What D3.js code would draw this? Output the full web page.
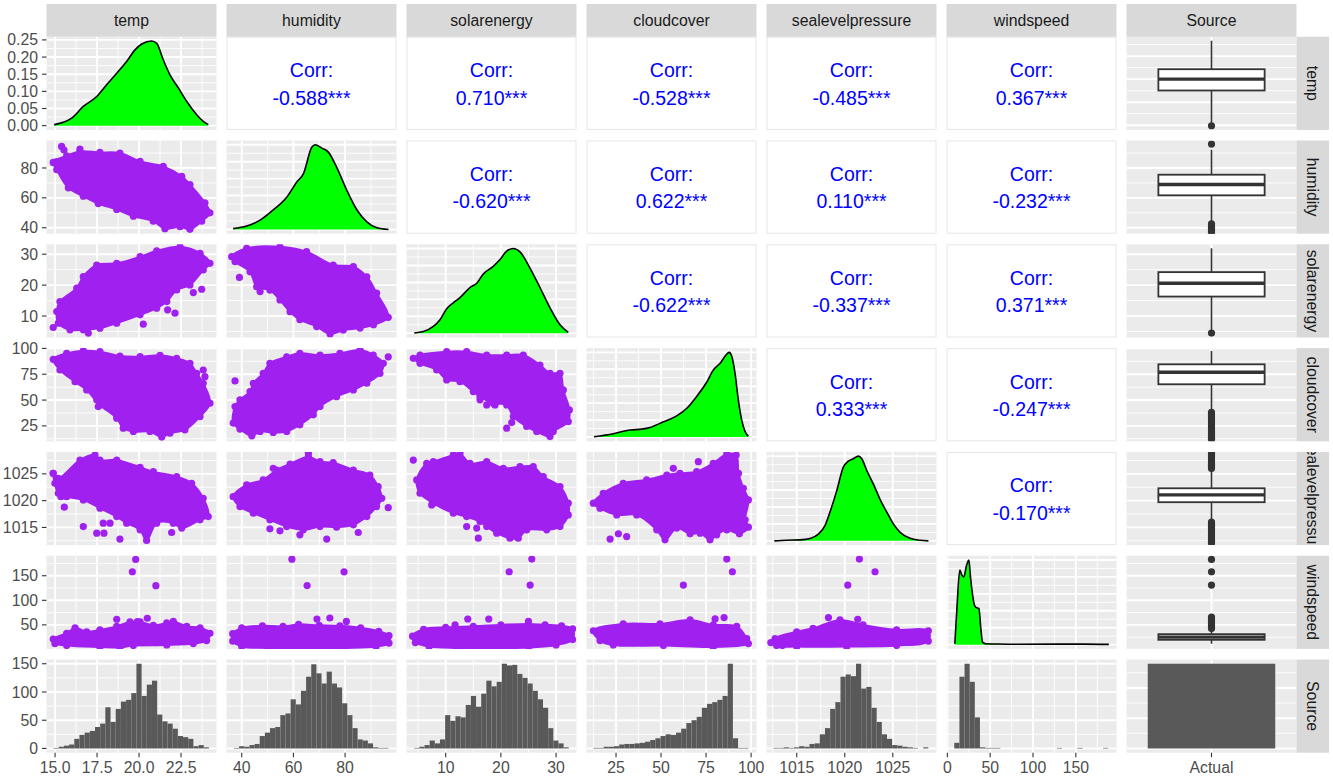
<!DOCTYPE html>
<html>
<head>
<meta charset="utf-8">
<script src="https://cdn.jsdelivr.net/npm/d3@7"></script>
<style>
  html, body { margin: 0; padding: 0; background: #fff; }
  svg { display: block; font-family: "Liberation Sans", Arial, Helvetica, sans-serif; }
</style>
</head>
<body>
<div id="chart"></div>
<script>
// --- Variables & axes ---
const varNames = ["temp", "humidity", "solarenergy", "cloudcover", "sealevelpressure", "windspeed"];
const xDomains = [[14.49, 24.61], [34.1, 99.9], [2.9, 33.7], [8.6, 103], [1011.85, 1029.55], [-1, 197.5]];
const yDomains = [[14.49, 24.61], [36, 98.4], [3.06, 33.2], [10.1, 100.3], [1011.7, 1029.1], [1.1, 190.8]];
const axisTicks = [[15, 17.5, 20, 22.5], [40, 60, 80], [10, 20, 30], [25, 50, 75, 100], [1015, 1020, 1025], [0, 50, 100, 150]];
const axisLabels = [["15.0", "17.5", "20.0", "22.5"], ["40", "60", "80"], ["10", "20", "30"], ["25", "50", "75", "100"], ["1015", "1020", "1025"], ["0", "50", "100", "150"]];
const densTicks = [0, 0.05, 0.10, 0.15, 0.20, 0.25];
const densLabels = ["0.00", "0.05", "0.10", "0.15", "0.20", "0.25"];
const countTicks = [0, 50, 100, 150];
const sourceCategories = ["Actual"];
const sourceCounts = [1400];

// --- Correlations (upper triangle, by row) ---
const corrRows = [
  [-0.588, 0.710, -0.528, -0.485, 0.367],
  [-0.620, 0.622, 0.110, -0.232],
  [-0.622, -0.337, 0.371],
  [0.333, -0.247],
  [-0.170]
];

// --- Diagonal densities [value, density] ---
const densTemp = [[14.95,0.003],[15.49,0.0096],[15.99,0.022],[16.68,0.056],[17.48,0.085],[18.07,0.119],[18.67,0.153],[19.26,0.187],[19.76,0.221],[20.16,0.238],[20.75,0.247],[21.05,0.240],[21.44,0.192],[21.84,0.148],[22.34,0.110],[22.83,0.071],[23.43,0.032],[23.82,0.0125],[24.12,0.003]];
const densHum = [[36.7,0.01],[41.9,0.04],[47.1,0.11],[52.2,0.23],[57.4,0.38],[61.3,0.56],[63.9,0.66],[67.1,0.97],[68.4,1.0],[71.0,0.96],[73.6,0.91],[76.8,0.73],[80.7,0.46],[84.6,0.23],[88.4,0.09],[92.3,0.02],[96.8,0.0]];
const densSolar = [[4.31,0.004],[5.94,0.02],[7.76,0.08],[8.97,0.16],[10.18,0.29],[11.38,0.36],[12.59,0.42],[14.40,0.54],[15.62,0.59],[16.81,0.70],[18.62,0.79],[19.84,0.87],[21.05,0.97],[22.25,1.0],[23.46,0.96],[25.27,0.77],[27.08,0.54],[28.9,0.30],[30.71,0.10],[32.21,0.01]];
const densCloud = [[12.77,0.004],[23.5,0.04],[32.8,0.083],[39.3,0.094],[43.9,0.114],[51.3,0.18],[58.7,0.25],[64.3,0.34],[69.8,0.48],[75.4,0.65],[79.0,0.79],[82.8,0.87],[86.5,0.98],[87.9,1.0],[89.3,0.95],[91.1,0.75],[92.9,0.44],[94.8,0.2],[96.7,0.063],[98.5,0.012]];
const densSlp = [[1012.67,0],[1013.95,0.008],[1015.34,0.012],[1016.38,0.028],[1017.25,0.08],[1017.94,0.18],[1018.46,0.34],[1019.16,0.59],[1019.85,0.87],[1020.37,0.94],[1020.89,0.97],[1021.41,1.0],[1021.77,0.97],[1022.29,0.83],[1022.98,0.67],[1023.67,0.49],[1024.37,0.34],[1025.06,0.2],[1025.76,0.1],[1026.8,0.03],[1027.84,0.008],[1028.71,0]];
const densWind = [[8.7,0.01],[11,0.4],[14.5,0.88],[17,0.82],[19.3,0.80],[22,0.92],[25.1,1.0],[27,0.8],[29.3,0.6],[31.5,0.47],[33.4,0.44],[36.9,0.425],[39,0.2],[41.1,0.03],[45,0.01],[55.8,0.008],[80,0.005],[130,0.006],[160,0.006],[188.6,0.003]];

// --- Bottom-row histograms (30 bins each) ---
const histTemp = [1,3,5,7,17,24,28,31,38,44,73,47,70,83,86,98,150,93,113,120,60,48,44,35,22,20,17,4,6,2];
const histHum = [1,4,3,6,8,22,28,36,38,59,62,87,78,102,127,149,133,115,136,115,108,80,59,36,16,14,9,2,1,1];
const histSolar = [1,3,6,14,9,16,59,49,57,55,77,93,74,97,120,110,118,150,147,148,132,125,115,102,87,72,36,14,9,2];
const histCloud = [1,1,3,3,4,7,8,8,9,10,12,15,18,22,25,24,28,35,45,50,56,72,79,82,86,93,150,18,1,1];
const histSlp = [1,1,2,1,2,4,3,8,9,25,36,70,82,127,131,128,150,106,109,72,47,25,17,6,5,3,2,1,0,2];
const histWind = [10,127,150,118,55,2,1,1,1,0,0,0,0,0,0,0,0,0,0,0,1,0,0,0,1,0,0,0,0,1];
const histExtents = [[14.91, 24.16], [37.0, 96.8], [4.3, 32.3], [12.4, 98.5], [1012.56, 1028.7], [8.1, 187.8]];

// --- Boxplots by Source [lower whisker, q1, median, q3, upper whisker] ---
const boxTemp = [15.24, 18.77, 20.0, 21.08, 24.18];
const boxHum = [44.0, 61.7, 68.9, 75.5, 92.2];
const boxSolar = [5.5, 16.3, 20.6, 24.2, 31.9];
const boxCloud = [39.5, 65.3, 76.9, 84.6, 97.5];
const boxSlp = [1016.41, 1019.71, 1021.07, 1022.31, 1025.6];
const boxWind = [11.4, 19.6, 25.0, 31.1, 39.0];
const outTemp = [14.94];
const outHum = [96.0, 42.6, 41.4, 40.2, 39.0, 37.8, 36.8];
const outSolar = [4.5];
const outCloud = [38, 36, 34, 32, 30, 28, 26, 24, 22, 20, 18, 16, 14, 12];
const outSlp = [1026.0, 1026.4, 1026.8, 1027.2, 1027.6, 1028.0, 1028.4, 1028.8, 1016.0, 1015.6, 1015.2, 1014.8, 1014.4, 1014.0, 1013.6, 1013.2, 1012.8, 1012.4, 1012.1];
const outWind = [183.2, 158.1, 131.1, 66, 62, 58, 54, 50, 46, 42.5];

// --- Scatter clouds: outline of the dense point mass + isolated points [x, y] ---
const hullHumTemp = [[14.89,83.7],[15.69,88.2],[16.48,91.1],[17.67,90.4],[18.86,90.0],[20.06,84.4],[21.44,81.1],[22.54,74.4],[23.03,68.9],[23.92,56.7],[24.22,50.0],[23.73,44.4],[23.03,38.9],[22.44,40.7],[21.54,39.3],[20.85,44.4],[19.66,47.7],[18.67,52.2],[17.57,56.2],[16.68,61.1],[15.79,66.7],[15.10,78.9]];
const ptsHumTemp = [[15.39,94.4],[15.53,92.0],[16.48,92.7],[15.1,84.2]];
const hullSolarTemp = [[15.19,7.70],[15.10,11.45],[15.29,14.67],[16.29,19.0],[16.68,22.74],[17.48,26.5],[18.67,27.06],[20.06,29.19],[21.05,31.1],[22.44,32.4],[23.63,30.29],[24.22,27.06],[23.82,24.9],[23.03,20.06],[22.24,18.45],[21.65,14.67],[21.05,12.55],[20.06,10.38],[18.67,7.70],[17.67,6.09],[16.68,5.54],[15.89,5.54]];
const ptsSolarTemp = [[14.89,6.29],[16.98,4.48],[20.25,7.38],[22.14,10.93],[23.23,17.58],[23.73,18.67],[21.7,12.0]];
const hullCloudTemp = [[14.89,89.4],[15.69,95.2],[16.68,97.7],[17.67,96.8],[18.86,92.6],[20.06,92.0],[21.25,93.3],[22.24,90.4],[23.03,85.6],[23.43,75.9],[23.82,66.3],[24.22,47.0],[23.63,34.0],[22.73,21.2],[21.84,18.0],[21.35,14.2],[20.65,19.6],[19.66,19.6],[19.06,22.8],[18.67,32.5],[17.67,45.3],[16.88,59.8],[16.19,67.8],[15.29,79.1]];
const ptsCloudTemp = [[23.82,79.1],[23.92,72.6],[23.63,58.2],[17.48,50.2],[17.57,43.7],[18.67,34.0]];
const hullSlpTemp = [[14.89,1025.11],[15.19,1024.18],[16.48,1027.58],[17.38,1028.52],[17.67,1027.58],[18.67,1027.58],[20.06,1026.23],[20.85,1025.41],[22.24,1024.47],[23.13,1023.25],[23.82,1020.45],[24.12,1017.03],[23.63,1016.41],[22.54,1014.87],[22.04,1015.8],[21.05,1015.8],[20.45,1012.56],[20.06,1014.55],[19.26,1015.8],[18.67,1017.03],[17.67,1018.59],[16.68,1020.14],[15.69,1020.75],[15.19,1021.38],[14.99,1023.25]];
const ptsSlpTemp = [[15.35,1020.75],[15.55,1018.78],[16.68,1015.16],[17.48,1013.93],[17.91,1013.93],[17.87,1015.8],[18.27,1015.8],[18.86,1012.82],[21.94,1014.05],[14.89,1025.11]];
const hullWindTemp = [[14.89,21],[15.69,33],[16.19,44],[16.88,36],[17.67,40],[18.67,47],[19.46,56],[20.06,56],[20.85,49],[21.65,54],[22.04,57],[22.84,47],[23.63,44],[24.22,33],[24.02,18],[23.23,12],[21.65,9],[19.66,8],[18.86,4],[17.67,5],[15.69,8],[14.99,12]];
const ptsWindTemp = [[19.8,183.2],[19.6,158.1],[21.0,129.7],[18.67,61.5],[20.49,63.5],[19.9,56.7]];
const hullSolarHum = [[36.1,29.2],[41.9,31.9],[54.8,32.4],[65.1,30.8],[75.4,26.5],[83.2,26.0],[88.4,22.7],[92.2,17.4],[96.7,9.6],[91.0,7.2],[85.8,6.1],[79.3,5.5],[74.2,4.2],[69.0,6.6],[62.5,8.8],[58.7,11.4],[54.8,15.2],[50.9,18.4],[45.8,19.5],[43.2,24.3],[37.4,27.6]];
const ptsSolarHum = [[39.1,22.5],[47.1,17.9],[93.2,10.1],[92.0,9.0]];
const hullCloudHum = [[36.7,27.7],[37.4,43.7],[39.3,50.2],[43.2,58.2],[44.5,66.3],[48.3,75.9],[50.9,85.6],[57.4,91.9],[62.5,95.2],[70.3,93.6],[78.0,95.2],[85.8,98.4],[90.9,93.6],[94.8,85.6],[93.5,75.9],[88.4,66.3],[83.2,59.8],[76.7,53.3],[70.3,43.7],[67.7,35.7],[62.5,26.0],[57.4,19.6],[52.2,18.6],[47.1,19.6],[43.9,15.4],[39.3,21.9]];
const ptsCloudHum = [[37.4,68.5],[96.7,91.9]];
const hullSlpHum = [[36.7,1020.75],[41.9,1022.93],[48.3,1023.86],[53.5,1025.72],[58.7,1026.84],[65.8,1028.20],[70.3,1027.27],[75.4,1027.08],[83.2,1025.72],[89.6,1024.79],[92.8,1022.61],[94.2,1020.45],[92.2,1018.89],[88.4,1017.03],[83.2,1015.48],[76.7,1015.05],[70.3,1015.16],[63.8,1014.55],[57.4,1015.16],[50.9,1016.41],[44.5,1017.66],[39.3,1018.89]];
const ptsSlpHum = [[96.7,1018.7],[85.1,1014.05],[72.9,1012.82],[62.5,1013.62],[54.8,1014.36],[50.9,1014.74],[65.8,1028.83],[52.2,1026.04]];
const hullWindHum = [[36.5,32],[40,44],[48,48],[56,47],[62,51],[70,49],[78,48],[86,44],[93,37],[97,28],[97,13],[92,6],[80,3],[65,2],[50,3],[40,6],[36.5,17]];
const ptsWindHum = [[59.4,183.8],[79.6,158],[65.3,130],[69.1,62],[74.1,64],[80.5,57]];
const hullCloudSolar = [[4.13,90.4],[5.35,93.6],[10.18,96.8],[13.8,96.8],[17.43,93.6],[21.05,93.6],[24.06,93.6],[27.08,83.9],[28.9,75.9],[30.71,75.9],[31.31,59.8],[32.4,40.5],[32.21,29.2],[29.49,19.6],[28.9,14.7],[26.49,19.6],[24.68,24.4],[22.25,34.0],[21.05,45.3],[18.62,46.9],[16.22,53.3],[15.0,58.2],[12.59,67.8],[10.18,69.5],[8.37,79.1],[5.35,85.6]];
const ptsCloudSolar = [[21.05,22.8],[21.96,28.2],[16.22,50.2],[17.43,45.3],[18.93,45.3]];
const hullSlpSolar = [[4.75,1023.86],[6.56,1026.97],[7.76,1027.27],[11.38,1028.52],[12.59,1028.83],[14.4,1026.97],[17.43,1027.27],[20.44,1026.04],[23.46,1026.34],[25.87,1026.34],[27.68,1024.47],[30.71,1022.61],[32.21,1019.52],[32.21,1017.34],[30.71,1015.16],[28.3,1014.55],[24.68,1014.55],[23.15,1013.0],[21.65,1013.0],[19.24,1013.93],[17.43,1015.16],[16.22,1016.1],[13.8,1017.03],[11.38,1017.66],[7.76,1019.52],[5.35,1021.38]];
const ptsSlpSolar = [[4.13,1027.58],[7.46,1019.2],[13.8,1015.16],[15.62,1014.87],[15.91,1013.0]];
const hullWindSolar = [[4,27],[6,41],[10,45],[15,47],[20,50],[25,52],[28,50],[31,48],[33,42],[33,20],[30,9],[25,4],[18,2],[12,3],[7,6],[4.5,14]];
const ptsWindSolar = [[25.6,183.9],[21.5,158.1],[25.3,131.1],[14,62],[17.8,62],[25,57],[11.7,50]];
const hullSlpCloud = [[12.4,1019.52],[17.9,1021.38],[29.0,1023.25],[42.0,1023.86],[53.2,1024.79],[60.5,1025.11],[69.8,1025.41],[79.0,1026.97],[86.5,1028.7],[91.7,1028.52],[93.0,1025.11],[95.7,1022.31],[98.5,1020.14],[96.7,1016.41],[98.5,1015.05],[93.5,1013.8],[86.5,1014.55],[80.9,1013.62],[77.2,1012.69],[71.7,1013.93],[66.1,1013.8],[58.7,1014.87],[52.2,1012.69],[47.6,1014.55],[36.5,1017.34],[25.4,1017.34],[16.1,1018.59]];
const ptsSlpCloud = [[56.8,1026.04],[70.7,1027.27],[21.7,1012.82],[26.3,1013.8],[30.9,1013.3]];
const hullWindCloud = [[12.4,38],[29.0,52],[49.4,52],[66.1,60],[79.0,50],[92.0,47],[97.6,22],[98.5,12],[79.0,5],[51.3,8],[23.5,9],[16.1,18]];
const ptsWindCloud = [[86.5,183.9],[89.6,158.1],[62.4,131.1],[80.0,62.1],[85.0,64.8]];
const hullWindSlp = [[1012.74,22],[1015.0,36],[1016.7,43],[1019.5,60],[1021.9,50],[1025.4,40],[1028.7,38],[1028.7,17],[1025.4,8],[1020.2,6],[1015.0,6],[1012.9,8]];
const ptsWindSlp = [[1021.52,183.9],[1023.15,158.1],[1020.31,131.1],[1018.3,64.8],[1021.35,61.5],[1012.3,14],[1013.5,8]];

// --- Assemble lookups ---
const densities = [densTemp, densHum, densSolar, densCloud, densSlp, densWind];
const hists = [histTemp, histHum, histSolar, histCloud, histSlp, histWind];
const boxStats = [boxTemp, boxHum, boxSolar, boxCloud, boxSlp, boxWind];
const boxOutliers = [outTemp, outHum, outSolar, outCloud, outSlp, outWind];
const scatters = [
  [1, 0, hullHumTemp, ptsHumTemp],
  [2, 0, hullSolarTemp, ptsSolarTemp], [2, 1, hullSolarHum, ptsSolarHum],
  [3, 0, hullCloudTemp, ptsCloudTemp], [3, 1, hullCloudHum, ptsCloudHum], [3, 2, hullCloudSolar, ptsCloudSolar],
  [4, 0, hullSlpTemp, ptsSlpTemp], [4, 1, hullSlpHum, ptsSlpHum], [4, 2, hullSlpSolar, ptsSlpSolar], [4, 3, hullSlpCloud, ptsSlpCloud],
  [5, 0, hullWindTemp, ptsWindTemp], [5, 1, hullWindHum, ptsWindHum], [5, 2, hullWindSolar, ptsWindSolar], [5, 3, hullWindCloud, ptsWindCloud], [5, 4, hullWindSlp, ptsWindSlp]
];

// --- Layout ---
const W = 1333, H = 777;
const gridLeft = 46.5, gridTop = 36.7, pw = 170, ph = 93.2, gapX = 10, gapY = 10.6;
const colX = c => gridLeft + c * (pw + gapX);
const rowY = r => gridTop + r * (ph + gapY);
const stripTop = 4, stripW = 32.5;

const PURPLE = "#A020F0", GREEN = "#00FF00", DARK = "#333333", BARGREY = "#595959";
const PANEL_BG = "#EBEBEB", STRIP_BG = "#D9D9D9";
const FONT = 15.8;
const DOT_R = 3.6;

const svg = d3.select("#chart").append("svg").attr("width", W).attr("height", H);
const defs = svg.append("defs");

const xScale = c => d3.scaleLinear().domain(xDomains[c]).range([0, pw]);
const yScale = r => d3.scaleLinear().domain(yDomains[r]).range([ph, 0]);
const catScale = d3.scaleLinear().domain([0.4, 1.6]).range([0, pw]);
const relScale = max => d3.scaleLinear().domain([-0.05 * max, 1.05 * max]).range([ph, 0]);
// ggally prints a plain hyphen for negatives
const fmtCorr = v => v.toFixed(3) + "***";

// --- Helpers ---
function inDomain(ticks, s) {
  const d = s.domain();
  return ticks.filter(t => t >= Math.min(d[0], d[1]) && t <= Math.max(d[0], d[1]));
}
function minorTicks(major, s) {
  if (major.length < 2) return [];
  const step = major[1] - major[0];
  const out = [];
  major.forEach(m => [m - step / 2, m + step / 2].forEach(v => {
    if (!out.some(o => Math.abs(o - v) < 1e-9)) out.push(v);
  }));
  return inDomain(out, s);
}

function addPanel(r, c, fill) {
  const id = `clip-${r}-${c}`;
  defs.append("clipPath").attr("id", id)
    .append("rect").attr("width", pw).attr("height", ph);
  const outer = svg.append("g").attr("transform", `translate(${colX(c)},${rowY(r)})`);
  outer.append("rect").attr("width", pw).attr("height", ph).attr("fill", fill);
  return outer.append("g").attr("clip-path", `url(#${id})`);
}

function drawGrid(g, xs, xMajor, ys, yMajor) {
  const vMinor = minorTicks(xMajor, xs), hMinor = minorTicks(yMajor, ys);
  const vMajor = inDomain(xMajor, xs), hMajor = inDomain(yMajor, ys);
  const lines = [
    ...vMinor.map(v => ({ x1: xs(v), x2: xs(v), y1: 0, y2: ph, w: 0.9 })),
    ...hMinor.map(v => ({ x1: 0, x2: pw, y1: ys(v), y2: ys(v), w: 0.9 })),
    ...vMajor.map(v => ({ x1: xs(v), x2: xs(v), y1: 0, y2: ph, w: 1.9 })),
    ...hMajor.map(v => ({ x1: 0, x2: pw, y1: ys(v), y2: ys(v), w: 1.9 }))
  ];
  g.selectAll(null).data(lines).join("line")
    .attr("x1", d => d.x1).attr("x2", d => d.x2)
    .attr("y1", d => d.y1).attr("y2", d => d.y2)
    .attr("stroke", "#fff").attr("stroke-width", d => d.w);
}

// --- Diagonal: densities ---
densities.forEach((dens, i) => {
  const g = addPanel(i, i, PANEL_BG);
  const xs = xScale(i);
  const ys = relScale(d3.max(dens, d => d[1]));
  const yMaj = i === 0 ? densTicks : ys.ticks(5);
  drawGrid(g, xs, axisTicks[i], ys, yMaj);
  const area = d3.area().x(d => xs(d[0])).y0(ys(0)).y1(d => ys(d[1])).curve(d3.curveMonotoneX);
  const line = d3.line().x(d => xs(d[0])).y(d => ys(d[1])).curve(d3.curveMonotoneX);
  g.append("path").datum(dens).attr("d", area).attr("fill", GREEN);
  g.append("path").datum(dens).attr("d", line).attr("fill", "none")
    .attr("stroke", "#000").attr("stroke-width", 1.6);
});

// --- Upper triangle: correlations ---
corrRows.forEach((vals, r) => {
  vals.forEach((v, k) => {
    const c = r + 1 + k;
    const g = svg.append("g").attr("transform", `translate(${colX(c)},${rowY(r)})`);
    g.append("rect").attr("x", 0.5).attr("y", 0.5).attr("width", pw - 1).attr("height", ph - 1)
      .attr("fill", "#fff").attr("stroke", "#E6E6E6").attr("stroke-width", 1);
    const t = g.append("text").attr("text-anchor", "middle").attr("fill", "#0000FF")
      .attr("font-size", "19.5px");
    t.append("tspan").attr("x", pw / 2).attr("y", ph / 2 - 6.1).text("Corr:");
    t.append("tspan").attr("x", pw / 2).attr("y", ph / 2 + 21.3).text(fmtCorr(v));
  });
});

// --- Lower triangle: scatter clouds ---
scatters.forEach(([r, c, hull, pts]) => {
  const g = addPanel(r, c, PANEL_BG);
  const xs = xScale(c), ys = yScale(r);
  drawGrid(g, xs, axisTicks[c], ys, axisTicks[r]);
  const outline = d3.line().x(d => xs(d[0])).y(d => ys(d[1])).curve(d3.curveCatmullRomClosed.alpha(0.5));
  g.append("path").datum(hull).attr("d", outline)
    .attr("fill", PURPLE).attr("stroke", PURPLE).attr("stroke-width", 2).attr("stroke-linejoin", "round");
  g.selectAll("circle").data(hull.concat(pts)).join("circle")
    .attr("cx", d => xs(d[0])).attr("cy", d => ys(d[1])).attr("r", DOT_R).attr("fill", PURPLE);
});

// --- Bottom row: histograms ---
const histMax = d3.max(hists, h => d3.max(h));
hists.forEach((counts, c) => {
  const g = addPanel(6, c, PANEL_BG);
  const xs = xScale(c);
  const ys = relScale(histMax);
  drawGrid(g, xs, axisTicks[c], ys, countTicks);
  const [lo, hi] = histExtents[c];
  const bw = (hi - lo) / counts.length;
  g.selectAll("rect.bar").data(counts).join("rect").attr("class", "bar")
    .attr("x", (d, i) => xs(lo + i * bw))
    .attr("width", (d, i) => xs(lo + (i + 1) * bw) - xs(lo + i * bw))
    .attr("y", d => ys(d))
    .attr("height", d => ys(0) - ys(d))
    .attr("fill", BARGREY);
});

// --- Right column: boxplots by Source ---
boxStats.forEach((s, r) => {
  const g = addPanel(r, 6, PANEL_BG);
  const ys = yScale(r);
  drawGrid(g, catScale, [1], ys, axisTicks[r]);
  const [lo, q1, med, q3, hi] = s;
  const cx = catScale(1);
  g.append("line").attr("x1", cx).attr("x2", cx).attr("y1", ys(hi)).attr("y2", ys(q3))
    .attr("stroke", DARK).attr("stroke-width", 1.6);
  g.append("line").attr("x1", cx).attr("x2", cx).attr("y1", ys(q1)).attr("y2", ys(lo))
    .attr("stroke", DARK).attr("stroke-width", 1.6);
  g.append("rect").attr("x", catScale(0.625)).attr("width", catScale(1.375) - catScale(0.625))
    .attr("y", ys(q3)).attr("height", ys(q1) - ys(q3))
    .attr("fill", "#fff").attr("stroke", DARK).attr("stroke-width", 1.8);
  g.append("line").attr("x1", catScale(0.625)).attr("x2", catScale(1.375))
    .attr("y1", ys(med)).attr("y2", ys(med)).attr("stroke", DARK).attr("stroke-width", 3.4);
  g.selectAll("circle").data(boxOutliers[r]).join("circle")
    .attr("cx", cx).attr("cy", d => ys(d)).attr("r", DOT_R).attr("fill", DARK);
});

// --- Bottom-right: bar of Source counts ---
{
  const g = addPanel(6, 6, PANEL_BG);
  const ys = relScale(d3.max(sourceCounts));
  drawGrid(g, catScale, [1], ys, ys.ticks(3));
  g.selectAll("rect.bar").data(sourceCounts).join("rect").attr("class", "bar")
    .attr("x", catScale(0.55)).attr("width", catScale(1.45) - catScale(0.55))
    .attr("y", d => ys(d)).attr("height", d => ys(0) - ys(d))
    .attr("fill", BARGREY);
}

// --- Strips ---
const stripLabels = varNames.concat(["Source"]);
stripLabels.forEach((name, i) => {
  // top
  const gt = svg.append("g").attr("transform", `translate(${colX(i)},${stripTop})`);
  gt.append("rect").attr("width", pw).attr("height", gridTop - stripTop).attr("fill", STRIP_BG);
  gt.append("text").attr("x", pw / 2).attr("y", (gridTop - stripTop) / 2).attr("dy", "0.35em")
    .attr("text-anchor", "middle").attr("font-size", FONT + "px").attr("fill", "#1A1A1A").text(name);
  // right
  const id = `strip-clip-${i}`;
  defs.append("clipPath").attr("id", id).append("rect").attr("width", stripW).attr("height", ph);
  const gr = svg.append("g").attr("transform", `translate(${colX(6) + pw},${rowY(i)})`);
  gr.append("rect").attr("width", stripW).attr("height", ph).attr("fill", STRIP_BG);
  gr.append("g").attr("clip-path", `url(#${id})`)
    .append("text").attr("transform", `translate(${stripW / 2},${ph / 2}) rotate(90)`)
    .attr("dy", "0.35em").attr("text-anchor", "middle")
    .attr("font-size", FONT + "px").attr("fill", "#1A1A1A").text(name);
});

// --- Left axis ---
const axisG = svg.append("g");
function leftAxis(r, ys, ticks, labels) {
  const shown = ticks.map((t, i) => [t, labels[i]]).filter(d => inDomain([d[0]], ys).length);
  const g = axisG.append("g").attr("transform", `translate(${gridLeft},${rowY(r)})`);
  g.selectAll("line").data(shown).join("line")
    .attr("x1", -4.5).attr("x2", 0).attr("y1", d => ys(d[0])).attr("y2", d => ys(d[0]))
    .attr("stroke", DARK).attr("stroke-width", 1.1);
  g.selectAll("text").data(shown).join("text")
    .attr("x", -8.5).attr("y", d => ys(d[0])).attr("dy", "0.35em")
    .attr("text-anchor", "end").attr("font-size", FONT + "px").attr("fill", "#4D4D4D")
    .text(d => d[1]);
}
leftAxis(0, relScale(d3.max(densTemp, d => d[1])), densTicks, densLabels);
for (let r = 1; r < 6; r++) leftAxis(r, yScale(r), axisTicks[r], axisLabels[r]);
leftAxis(6, relScale(histMax), countTicks, countTicks.map(String));

// --- Bottom axis ---
function bottomAxis(c, xs, ticks, labels) {
  const shown = ticks.map((t, i) => [t, labels[i]]).filter(d => inDomain([d[0]], xs).length);
  const g = axisG.append("g").attr("transform", `translate(${colX(c)},${rowY(6) + ph})`);
  g.selectAll("line").data(shown).join("line")
    .attr("x1", d => xs(d[0])).attr("x2", d => xs(d[0])).attr("y1", 0).attr("y2", 4.5)
    .attr("stroke", DARK).attr("stroke-width", 1.1);
  g.selectAll("text").data(shown).join("text")
    .attr("x", d => xs(d[0])).attr("y", 20.8)
    .attr("text-anchor", "middle").attr("font-size", FONT + "px").attr("fill", "#4D4D4D")
    .text(d => d[1]);
}
for (let c = 0; c < 6; c++) bottomAxis(c, xScale(c), axisTicks[c], axisLabels[c]);
bottomAxis(6, catScale, [1], sourceCategories);
</script>
</body>
</html>
